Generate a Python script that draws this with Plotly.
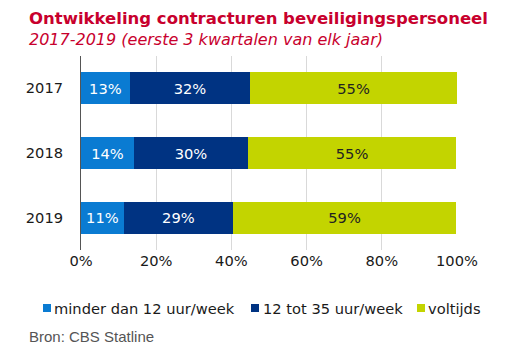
import plotly.graph_objects as go

years = ["2017", "2018", "2019"]
minder_12 = [13.0, 14.1, 11.4]
tot_35 = [32.0, 30.3, 29.0]
voltijds = [55.0, 55.4, 59.4]
series_names = ["minder dan 12 uur/week", "12 tot 35 uur/week", "voltijds"]
colors = ["#0a7bd2", "#003382", "#c3d400"]
tick_vals = [0, 20, 40, 60, 80, 100]
tick_text = ["0%", "20%", "40%", "60%", "80%", "100%"]

FS = 14.67  # 11pt

fig = go.Figure()
for name, vals, col in zip(series_names, [minder_12, tot_35, voltijds], colors):
    fig.add_trace(go.Bar(
        y=years, x=vals, name=name, orientation="h",
        marker=dict(color=col, line=dict(width=0)),
        text=[f"{round(v):d}%" for v in vals],
        textposition="inside", insidetextanchor="middle",
        textfont=dict(color="white" if col != "#c3d400" else "#222222",
                      family="DejaVu Sans", size=FS),
        width=0.495, showlegend=False,
    ))

# The page body has an 8px default margin, so the figure is laid out
# 8px smaller and offset accordingly.
PL, PW, PB, PH = 73, 376, 242, 194
fig.update_layout(
    barmode="stack",
    width=502, height=349,
    margin=dict(l=PL, r=53, t=48, b=107, autoexpand=False),
    paper_bgcolor="white", plot_bgcolor="white",
    font=dict(family="DejaVu Sans", size=FS, color="#1a1a1a"),
    showlegend=False,
    uniformtext=dict(minsize=8, mode="show"),
)
fig.update_xaxes(range=[0, 100], tickvals=tick_vals, ticktext=tick_text,
                 showgrid=True, gridcolor="#d9d9d9", gridwidth=1,
                 zeroline=False, showline=False, ticks="", ticklen=0,
                 automargin=False,
                 tickfont=dict(size=FS, color="#1a1a1a"))
fig.update_yaxes(categoryorder="array", categoryarray=years,
                 autorange=False, range=[2.5, -0.5],
                 showline=True, linecolor="#555555", linewidth=1,
                 ticks="", ticklabelstandoff=14, automargin=False,
                 tickfont=dict(size=FS, color="#1a1a1a"))

# custom legend: squares and labels
sq_left_px = [35, 243, 409]
txt_left_px = [44, 253, 418]
leg_center_px = 300
for name, col, sx, tx in zip(series_names, colors, sq_left_px, txt_left_px):
    x0 = (sx - PL) / PW
    fig.add_shape(type="rect", xref="paper", yref="paper",
                  x0=x0, x1=x0 + 8 / PW,
                  y0=-(leg_center_px - PB + 4) / PH, y1=-(leg_center_px - PB - 4) / PH,
                  fillcolor=col, line=dict(width=0))
    fig.add_annotation(
        text=name, xref="paper", yref="paper", x=(tx - PL) / PW, y=0,
        xanchor="left", yanchor="middle", yshift=-(leg_center_px - PB),
        showarrow=False,
        font=dict(family="DejaVu Sans", size=FS, color="#1a1a1a"))

fig.add_annotation(text="<b>Ontwikkeling contracturen beveiligingspersoneel</b>",
                   xref="paper", yref="paper", x=-0.144, y=1.0, yanchor="bottom",
                   yshift=26, xanchor="left", showarrow=False,
                   font=dict(family="DejaVu Sans", size=16.5, color="#c8002d"))
fig.add_annotation(text="<i>2017-2019 (eerste 3 kwartalen van elk jaar)</i>",
                   xref="paper", yref="paper", x=-0.144, y=1.0, yanchor="bottom",
                   yshift=5, xanchor="left", showarrow=False,
                   font=dict(family="DejaVu Sans", size=16, color="#c8002d"))
fig.add_annotation(text="Bron: CBS Statline",
                   xref="paper", yref="paper", x=-0.144, y=0, yanchor="top",
                   yshift=-76, xanchor="left", showarrow=False,
                   font=dict(family="Liberation Sans", size=15, color="#555555"))

fig.write_html("out.html")
